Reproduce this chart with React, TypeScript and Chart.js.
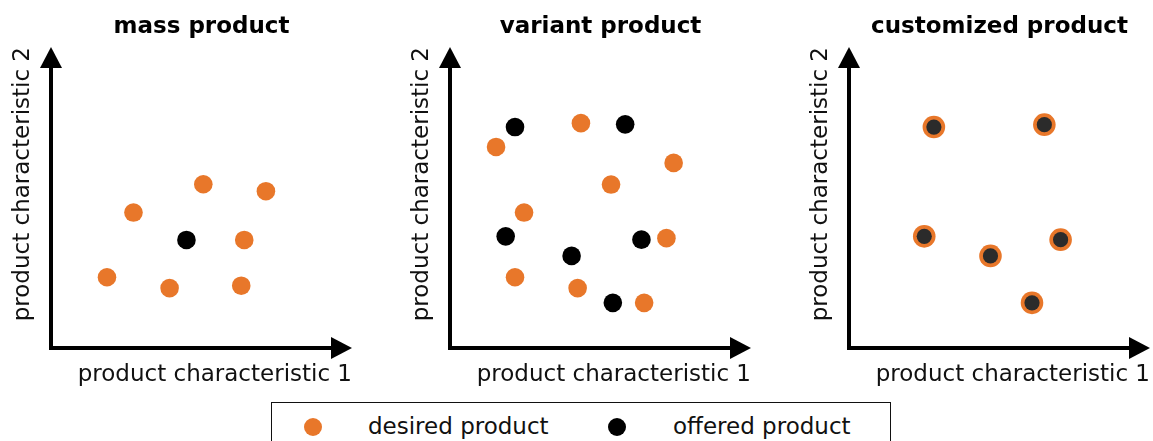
import React, { useEffect, useRef } from 'react';
import { Chart, registerables } from 'chart.js';

Chart.register(...registerables);

// ---------- data ----------
const panelTitles = ['mass product', 'variant product', 'customized product'];
const xAxisLabel = 'product characteristic 1';
const yAxisLabel = 'product characteristic 2';
const legendLabels = ['desired product', 'offered product'];

const massDesired = [
  { x: 27.4, y: 45.0 },
  { x: 50.6, y: 54.4 },
  { x: 71.4, y: 52.1 },
  { x: 64.2, y: 35.9 },
  { x: 18.6, y: 23.5 },
  { x: 39.4, y: 19.9 },
  { x: 63.2, y: 20.7 },
];
const massOffered = [{ x: 45.0, y: 35.9 }];

const variantDesired = [
  { x: 43.5, y: 74.7 },
  { x: 15.3, y: 66.8 },
  { x: 74.3, y: 61.5 },
  { x: 53.5, y: 54.3 },
  { x: 24.6, y: 45.0 },
  { x: 71.9, y: 36.5 },
  { x: 21.6, y: 23.5 },
  { x: 42.4, y: 19.9 },
  { x: 64.5, y: 15.0 },
];
const variantOffered = [
  { x: 21.6, y: 73.4 },
  { x: 58.2, y: 74.3 },
  { x: 18.5, y: 37.1 },
  { x: 40.4, y: 30.6 },
  { x: 63.6, y: 36.0 },
  { x: 54.1, y: 15.0 },
];

const customDesired = [
  { x: 28.2, y: 73.4 },
  { x: 64.9, y: 74.2 },
  { x: 25.0, y: 37.1 },
  { x: 47.0, y: 30.6 },
  { x: 70.3, y: 36.0 },
  { x: 60.8, y: 15.0 },
];
const customOffered = [
  { x: 28.2, y: 73.4 },
  { x: 64.9, y: 74.2 },
  { x: 25.0, y: 37.1 },
  { x: 47.0, y: 30.6 },
  { x: 70.3, y: 36.0 },
  { x: 60.8, y: 15.0 },
];

// ---------- style ----------
const ORANGE = '#E8772A';
const FONT = '"DejaVu Sans", "Liberation Sans", Arial, sans-serif';
const CANVAS_W = 356;
const CANVAS_H = 391;

const arrowPlugin = {
  id: 'arrowAxes',
  beforeDatasetsDraw(chart: any) {
    const { ctx, chartArea } = chart;
    const L = chartArea.left;
    const R = chartArea.right;
    const T = chartArea.top;
    const B = chartArea.bottom;
    const head = 21;
    const half = 11;
    ctx.save();
    ctx.strokeStyle = '#000';
    ctx.fillStyle = '#000';
    ctx.lineWidth = 4;
    ctx.lineCap = 'butt';
    ctx.beginPath();
    ctx.moveTo(L, B + 2);
    ctx.lineTo(L, T + head - 2);
    ctx.moveTo(L - 2, B);
    ctx.lineTo(R - head + 2, B);
    ctx.stroke();
    ctx.beginPath();
    ctx.moveTo(L, T);
    ctx.lineTo(L - half, T + head);
    ctx.lineTo(L + half, T + head);
    ctx.closePath();
    ctx.fill();
    ctx.beginPath();
    ctx.moveTo(R, B);
    ctx.lineTo(R - head, B - half);
    ctx.lineTo(R - head, B + half);
    ctx.closePath();
    ctx.fill();
    ctx.restore();
  },
};

type Pt = { x: number; y: number };

function Panel(props: { left: number; title: string; desired: Pt[]; offered: Pt[]; custom?: boolean }) {
  const ref = useRef<HTMLCanvasElement>(null);
  useEffect(() => {
    const custom = !!props.custom;
    const axisTitleFont = { family: FONT, size: 23, lineHeight: 1 };
    const chart = new Chart(ref.current as HTMLCanvasElement, {
      type: 'scatter',
      data: {
        datasets: [
          {
            label: legendLabels[1],
            data: props.offered,
            backgroundColor: custom ? '#2B2B2B' : '#000000',
            pointRadius: custom ? 7.6 : 9.3,
            pointHoverRadius: custom ? 7.6 : 9.3,
            borderWidth: 0,
            order: 0,
          },
          {
            label: legendLabels[0],
            data: props.desired,
            backgroundColor: ORANGE,
            pointRadius: custom ? 11.3 : 9.3,
            pointHoverRadius: custom ? 11.3 : 9.3,
            borderWidth: 0,
            order: 1,
          },
        ],
      },
      options: {
        animation: false,
        responsive: false,
        events: [],
        layout: { autoPadding: false, padding: { top: 0, left: 0, right: 4, bottom: 0 } },
        plugins: {
          legend: { display: false },
          tooltip: { enabled: false },
          title: {
            display: true,
            text: props.title,
            fullSize: false,
            color: '#000',
            font: { family: FONT, size: 23, weight: 'bold', lineHeight: 1 },
            padding: { top: 16, bottom: 8 },
          },
        },
        scales: {
          x: {
            type: 'linear',
            min: 0,
            max: 100,
            ticks: { display: false },
            grid: { display: false, drawTicks: false, tickLength: 0 },
            border: { display: false },
            title: {
              display: true,
              text: xAxisLabel,
              align: 'end',
              color: '#111',
              font: axisTitleFont,
              padding: { top: 16, bottom: 4 },
            },
          },
          y: {
            type: 'linear',
            min: 0,
            max: 100,
            ticks: { display: false },
            grid: { display: false, drawTicks: false, tickLength: 0 },
            border: { display: false },
            title: {
              display: true,
              text: yAxisLabel,
              align: 'end',
              color: '#111',
              font: axisTitleFont,
              padding: { top: 12, bottom: 16 },
            },
          },
        },
      } as any,
      plugins: [arrowPlugin],
    });
    return () => chart.destroy();
  }, []);
  return (
    <div style={{ position: 'absolute', left: props.left, top: 0, width: CANVAS_W, height: CANVAS_H }}>
      <canvas ref={ref} width={CANVAS_W} height={CANVAS_H} style={{ width: CANVAS_W, height: CANVAS_H, display: 'block' }} />
    </div>
  );
}

const legendText: React.CSSProperties = {
  position: 'absolute',
  fontFamily: FONT,
  fontSize: 23,
  lineHeight: '23px',
  whiteSpace: 'nowrap',
  color: '#111',
};

export default function App() {
  return (
    <div
      style={{
        position: 'absolute',
        left: 0,
        top: 0,
        width: 1153,
        height: 441,
        overflow: 'hidden',
        background: '#fff',
      }}
    >
      <Panel left={0} title={panelTitles[0]} desired={massDesired} offered={massOffered} />
      <Panel left={399} title={panelTitles[1]} desired={variantDesired} offered={variantOffered} />
      <Panel left={798} title={panelTitles[2]} desired={customDesired} offered={customOffered} custom />
      <div
        style={{
          position: 'absolute',
          left: 271,
          top: 402,
          width: 620,
          height: 60,
          border: '1.6px solid #111',
          boxSizing: 'border-box',
        }}
      />
      <div
        style={{
          position: 'absolute',
          left: 313 - 9.2,
          top: 427 - 9.2,
          width: 18.4,
          height: 18.4,
          borderRadius: '50%',
          background: ORANGE,
        }}
      />
      <span style={{ ...legendText, left: 368, top: 414.5 }}>{legendLabels[0]}</span>
      <div
        style={{
          position: 'absolute',
          left: 617 - 9.2,
          top: 427 - 9.2,
          width: 18.4,
          height: 18.4,
          borderRadius: '50%',
          background: '#000',
        }}
      />
      <span style={{ ...legendText, left: 673, top: 414.5 }}>{legendLabels[1]}</span>
    </div>
  );
}
